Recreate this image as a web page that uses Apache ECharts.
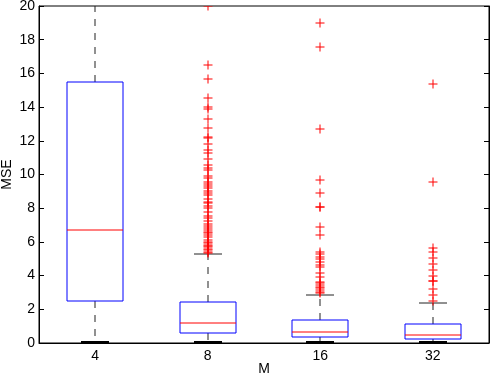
<!DOCTYPE html>
<html>
<head>
<meta charset="utf-8">
<script src="https://cdn.jsdelivr.net/npm/echarts@6/dist/echarts.min.js"></script>
<style>html,body{margin:0;padding:0;background:#fff}#c{width:491px;height:375px}</style>
</head>
<body>
<div id="c"></div>
<script>
const categories = ['4', '8', '16', '32'];
const lowerWhisker = [0, 0, 0, 0];
const q1 = [2.5, 0.61, 0.34, 0.24];
const median = [6.7, 1.17, 0.67, 0.47];
const q3 = [15.5, 2.45, 1.34, 1.1];
const upperWhisker = [26, 5.28, 2.82, 2.4];

const outliers4 = [];
const outliers8 = [20.0, 16.48, 15.67, 14.52, 13.99, 13.89, 13.29, 12.74, 12.24, 12.15, 11.81, 11.45, 11.29,
  10.90, 10.56, 10.37, 10.27, 9.91, 9.77, 9.57, 9.42, 9.32, 9.18, 9.04, 8.88, 8.78, 8.53, 8.39, 8.29, 8.13,
  7.99, 7.79, 7.54, 7.40, 7.26, 7.05, 6.94, 6.81, 6.71, 6.60, 6.55, 6.41, 6.27, 6.11, 6.02, 5.95, 5.82,
  5.75, 5.68, 5.60, 5.52, 5.42, 5.35];
const outliers16 = [18.99, 17.59, 12.68, 9.67, 8.92, 8.10, 8.05, 6.87, 6.38, 5.42, 5.28, 5.12, 4.97, 4.81,
  4.65, 4.49, 4.14, 3.94, 3.64, 3.54, 3.44, 3.34, 3.25, 3.15, 3.05, 2.95];
const outliers32 = [15.37, 9.57, 5.62, 5.38, 5.03, 4.67, 4.31, 4.00, 3.70, 3.66, 3.19, 2.85, 2.49];
const outlierGroups = [outliers4, outliers8, outliers16, outliers32];

const yTicks = { min: 0, max: 20, interval: 2 };

const boxData = categories.map((c, i) => [i, lowerWhisker[i], q1[i], median[i], q3[i], upperWhisker[i]]);
const outlierData = [];
outlierGroups.forEach((g, i) => g.forEach(v => outlierData.push([i, v])));

const R = Math.round;
const FONT = 'Liberation Sans';

const chart = echarts.init(document.getElementById('c'), null, { renderer: 'canvas' });
chart.setOption({
  animation: false,
  grid: { left: 39, right: 2, top: 6, bottom: 32, outerBoundsMode: 'none', containLabel: false,
    show: true, borderColor: '#000', borderWidth: 1 },
  xAxis: {
    type: 'category', data: categories,
    name: 'M', nameLocation: 'middle', nameGap: 19, nameMoveOverlap: false,
    nameTextStyle: { color: '#000', fontSize: 14, fontFamily: FONT },
    axisLine: { lineStyle: { color: '#000', width: 1 } },
    axisTick: { show: false },
    axisLabel: { color: '#000', fontSize: 14, fontFamily: FONT, margin: 6 },
    splitLine: { show: false }
  },
  yAxis: [{
    type: 'value', min: yTicks.min, max: yTicks.max, interval: yTicks.interval,
    name: 'MSE', nameLocation: 'middle', nameGap: 25, nameMoveOverlap: false,
    nameTextStyle: { color: '#000', fontSize: 14, fontFamily: FONT },
    axisLine: { show: true, lineStyle: { color: '#000', width: 1 } },
    axisTick: { show: true, inside: true, length: 5, lineStyle: { color: '#000' } },
    axisLabel: { color: '#000', fontSize: 14, fontFamily: FONT, margin: 4 },
    splitLine: { show: false }
  }, {
    type: 'value', min: yTicks.min, max: yTicks.max, interval: yTicks.interval, position: 'right',
    axisLine: { show: true, lineStyle: { color: '#000', width: 1 } },
    axisTick: { show: true, inside: true, length: 5, lineStyle: { color: '#000' } },
    axisLabel: { show: false },
    splitLine: { show: false }
  }],
  series: [{
    type: 'custom',
    clip: true,
    data: boxData,
    encode: { x: 0, y: [1, 2, 3, 4, 5] },
    renderItem: function (params, api) {
      const i = api.value(0);
      const pLow = api.coord([i, api.value(1)]);
      const pQ1 = api.coord([i, api.value(2)]);
      const pMed = api.coord([i, api.value(3)]);
      const pQ3 = api.coord([i, api.value(4)]);
      const pHigh = api.coord([i, api.value(5)]);
      const bw = R(api.size([1, 0])[0] * 0.5);
      const cx = R(pMed[0]);
      const x0 = cx - bw / 2;
      const whisk = { stroke: '#222', lineWidth: 1, lineDash: [7, 7] };
      const solid = { stroke: '#222', lineWidth: 1 };
      return {
        type: 'group',
        children: [
          { type: 'line', shape: { x1: cx, y1: R(pQ3[1]), x2: cx, y2: R(pHigh[1]) }, style: whisk },
          { type: 'line', shape: { x1: cx, y1: R(pQ1[1]), x2: cx, y2: R(pLow[1]) }, style: whisk },
          { type: 'line', shape: { x1: cx - bw / 4, y1: R(pHigh[1]), x2: cx + bw / 4, y2: R(pHigh[1]) }, style: solid },
          { type: 'line', shape: { x1: cx - bw / 4, y1: R(pLow[1]) - 1, x2: cx + bw / 4, y2: R(pLow[1]) - 1 }, style: { stroke: '#000', lineWidth: 2 } },
          { type: 'rect', shape: { x: x0, y: R(pQ3[1]), width: bw, height: R(pQ1[1]) - R(pQ3[1]) },
            style: { fill: 'none', stroke: '#0000ff', lineWidth: 1 } },
          { type: 'line', shape: { x1: x0, y1: R(pMed[1]), x2: x0 + bw, y2: R(pMed[1]) },
            style: { stroke: '#ff0000', lineWidth: 1 } }
        ]
      };
    }
  }, {
    type: 'custom',
    clip: true,
    data: outlierData,
    encode: { x: 0, y: 1 },
    renderItem: function (params, api) {
      const p = api.coord([api.value(0), api.value(1)]);
      const x = R(p[0]), y = R(p[1]);
      const s = 4.5;
      const st = { stroke: '#ff0000', lineWidth: 1 };
      return {
        type: 'group',
        children: [
          { type: 'line', shape: { x1: x - s, y1: y, x2: x + s, y2: y }, style: st },
          { type: 'line', shape: { x1: x, y1: y - s, x2: x, y2: y + s }, style: st }
        ]
      };
    }
  }]
});
</script>
</body>
</html>
